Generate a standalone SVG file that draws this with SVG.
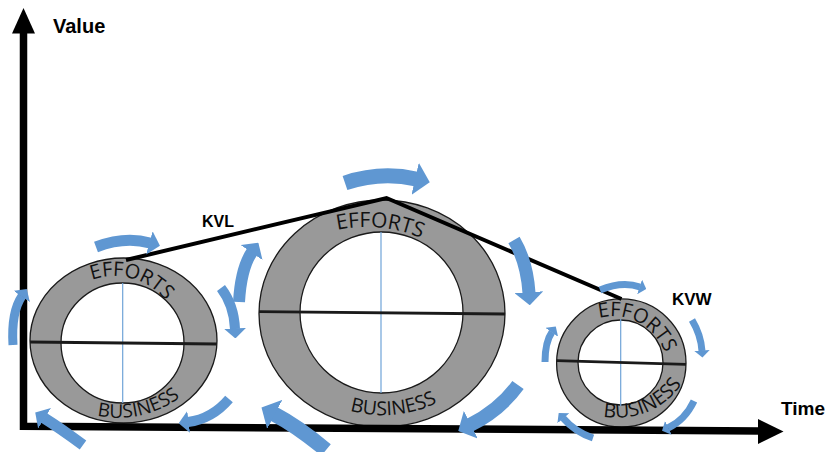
<svg xmlns="http://www.w3.org/2000/svg" width="828" height="452" viewBox="0 0 828 452">
  <defs>
    <style>
      .ring { fill: #999999; fill-rule: evenodd; stroke: #1a1a1a; stroke-width: 1.3; }
      .axisline { stroke: #1a1a1a; stroke-width: 2.8; fill: none; }
      .vline { stroke: #6fa3d8; stroke-width: 1.2; fill: none; }
      .word { font-family: "Open Sans", "Noto Sans", sans-serif; fill: #111111; }
      .cyc { fill: none; stroke: #5f97d2; stroke-linecap: butt; marker-end: url(#ah); }
      .lbl { font-family: "Liberation Sans", Arial, sans-serif; font-weight: bold; fill: #000000; }
      .guide { fill: none; stroke: none; }
    </style>
    <marker id="ah" markerUnits="strokeWidth" viewBox="0 0 10 22" markerWidth="1" markerHeight="2.2" refX="0.6" refY="11" orient="auto">
      <path d="M0,0 L10,11 L0,22 Z" fill="#5f97d2"/>
    </marker>
    <path id="tp-l-top" class="guide" d="M48.3,342 A66,66 0 0 1 180.3,342"/>
    <path id="tp-l-bot" class="guide" d="M27.9,365.6 A104,104 0 0 0 208.3,365.6"/>
    <path id="tp-m-top" class="guide" d="M244.9,296.9 A140,140 0 0 1 487.3,296.9"/>
    <path id="tp-m-bot" class="guide" d="M275.7,353.2 A124,124 0 0 0 490.5,353.2"/>
    <path id="tp-r-top" class="guide" d="M558.5,370.7 A54.6,54.6 0 0 1 667.7,370.7"/>
    <path id="tp-r-bot" class="guide" d="M550,378.9 A78,78 0 0 0 685,378.9"/>
  </defs>

  <rect x="0" y="0" width="828" height="452" fill="#ffffff"/>

  <g id="ring-left">
    <path class="ring" d="M30,340.5 a93.5,82.5 0 1 0 187,0 a93.5,82.5 0 1 0 -187,0 Z M61,343 a61.5,60 0 1 0 123,0 a61.5,60 0 1 0 -123,0 Z"/>
    <line class="vline" x1="122.7" y1="283" x2="122.7" y2="403"/>
    <line class="axisline" x1="30" y1="342" x2="217" y2="344"/>
    <text class="word" font-size="20"><textPath href="#tp-l-top" startOffset="80.6">EFFORTS</textPath></text>
    <text class="word" font-size="19"><textPath href="#tp-l-bot" startOffset="88">BUSINESS</textPath></text>
  </g>

  <g id="ring-middle">
    <path class="ring" d="M259,313.5 a123,113.5 0 1 0 246,0 a123,113.5 0 1 0 -246,0 Z M300,312.5 a81.5,80.5 0 1 0 163,0 a81.5,80.5 0 1 0 -163,0 Z"/>
    <line class="vline" x1="381" y1="232" x2="381" y2="393"/>
    <line class="axisline" x1="259" y1="311.7" x2="505" y2="314"/>
    <text class="word" font-size="21"><textPath href="#tp-m-top" startOffset="117.3">EFFORTS</textPath></text>
    <text class="word" font-size="19.5"><textPath href="#tp-m-bot" startOffset="96">BUSINESS</textPath></text>
  </g>

  <g id="ring-right">
    <path class="ring" d="M556.6,363 a64.7,64 0 1 0 129.4,0 a64.7,64 0 1 0 -129.4,0 Z M578,362.5 a42.5,42.5 0 1 0 85,0 a42.5,42.5 0 1 0 -85,0 Z"/>
    <line class="vline" x1="620.7" y1="319" x2="620.7" y2="406"/>
    <line class="axisline" x1="556.6" y1="360.7" x2="686" y2="364.3"/>
    <text class="word" font-size="20"><textPath href="#tp-r-top" startOffset="71.5">EFFORTS</textPath></text>
    <text class="word" font-size="19.5"><textPath href="#tp-r-bot" startOffset="67">BUSINESS</textPath></text>
  </g>

  <g id="connectors">
    <polyline points="126,260 386.5,198 621.5,299" fill="none" stroke="#000000" stroke-width="4" stroke-linejoin="miter"/>
  </g>

  <g id="axes">
    <polyline points="23.5,32 23.5,426.2 760,431" fill="none" stroke="#000000" stroke-width="7.5" stroke-linejoin="miter"/>
    <polygon points="12,33.5 35,33.5 23.5,8" fill="#000000"/>
    <polygon points="758,419 783.5,431.5 758,444" fill="#000000"/>
  </g>

  <g id="cycle-arrows">
    <path class="cyc" stroke-width="11" d="M96,247 Q125,236 150,243"/>
    <path class="cyc" stroke-width="9" d="M13,345 Q11,312 22,296"/>
    <path class="cyc" stroke-width="10" d="M221,288 Q234,305 235,329"/>
    <path class="cyc" stroke-width="10" d="M229,399 Q212,419 188,422"/>
    <path class="cyc" stroke-width="11" d="M83,445 Q60,428 44,418"/>

    <path class="cyc" stroke-width="15" d="M345,183 Q381,171 416,179"/>
    <path class="cyc" stroke-width="12" d="M239,302 Q241,268 252,252"/>
    <path class="cyc" stroke-width="13" d="M514,240 Q527,262 529,293"/>
    <path class="cyc" stroke-width="14" d="M518,385 Q500,410 470,425"/>
    <path class="cyc" stroke-width="15" d="M326,450 Q297,426 274,414"/>

    <path class="cyc" stroke-width="7" d="M600,290 Q622,281 640,287"/>
    <path class="cyc" stroke-width="7" d="M692,320 Q701,335 702,351"/>
    <path class="cyc" stroke-width="7" d="M694,401 Q685,420 668,428"/>
    <path class="cyc" stroke-width="7" d="M593,438 Q575,432 563,418"/>
    <path class="cyc" stroke-width="7" d="M545,362 Q545,342 552,332"/>
  </g>

  <g id="labels">
    <text class="lbl" x="53" y="33" font-size="20">Value</text>
    <text class="lbl" x="781" y="414.5" font-size="19">Time</text>
    <text class="lbl" x="202" y="226.5" font-size="16">KVL</text>
    <text class="lbl" x="672" y="305" font-size="17">KVW</text>
  </g>
</svg>
